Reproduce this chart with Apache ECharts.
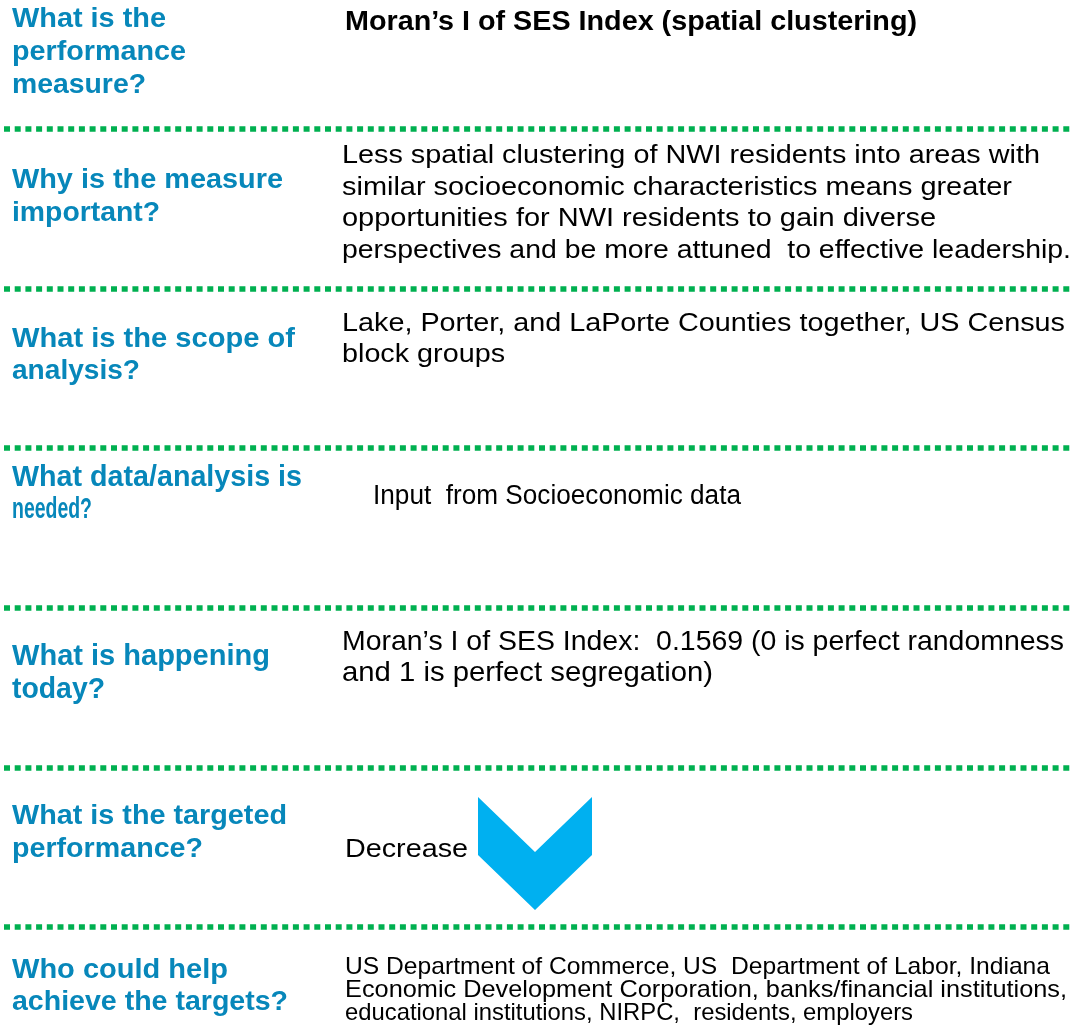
<!DOCTYPE html>
<html>
<head>
<meta charset="utf-8">
<script src="https://cdn.jsdelivr.net/npm/echarts@6/dist/echarts.min.js"></script>
<style>
html,body{margin:0;padding:0;background:#fff;}
#chart{width:1072px;height:1031px;}
</style>
</head>
<body>
<div id="chart"></div>
<script>
// ---- Content ----
const questions = [
  ["What is the", "performance", "measure?"],
  ["Why is the measure", "important?"],
  ["What is the scope of", "analysis?"],
  ["What data/analysis is", "needed?"],
  ["What is happening", "today?"],
  ["What is the targeted", "performance?"],
  ["Who could help", "achieve the targets?"]
];
const answers = [
  ["Moran’s I of SES Index (spatial clustering)"],
  ["Less spatial clustering of NWI residents into areas with",
   "similar socioeconomic characteristics means greater",
   "opportunities for NWI residents to gain diverse",
   "perspectives and be more attuned  to effective leadership."],
  ["Lake, Porter, and LaPorte Counties together, US Census", "block groups"],
  ["Input  from Socioeconomic data"],
  ["Moran’s I of SES Index:  0.1569 (0 is perfect randomness", "and 1 is perfect segregation)"],
  ["Decrease"],
  ["US Department of Commerce, US  Department of Labor, Indiana",
   "Economic Development Corporation, banks/financial institutions,",
   "educational institutions, NIRPC,  residents, employers"]
];
const targetDirection = "down";

// ---- Layout (positions / sizes / styles) ----
const qLeft = 12;
const qSizes = [28, 28, 28, 29, 29, 28, 28];
const qCenters = [[19, 52, 85], [180, 213], [339, 371], [478, 510], [657, 690], [816, 849], [970, 1002]];
const qRights = [[166, 186, 146], [283, 160], [295, 140], [302, 92], [270, 105], [287, 203], [228, 288]];
const aLefts = [345, 342, 342, 373, 342, 345, 345];
const aCenters = [[22], [156, 188, 219, 251], [324, 355], [497], [642, 673], [850], [967, 990, 1013]];
const aRights = [[917], [1040, 1012, 936, 1071], [1065, 505], [741], [1064, 713], [468], [1050, 1067, 913]];
const aStyles = [
  {weight: 'bold', size: 28}, {weight: 'normal', size: 26}, {weight: 'normal', size: 26},
  {weight: 'normal', size: 27}, {weight: 'normal', size: 28}, {weight: 'normal', size: 26},
  {weight: 'normal', size: 24}
];
const sepYs = [129, 289, 448, 608, 768, 927];
const FONT = '"Liberation Sans", Arial, sans-serif';
const BLUE = '#0787BA';
const GREEN = '#00B050';
const CHEVRON = '#00B0F0';

const measureCtx = document.createElement('canvas').getContext('2d');
function measure(text, weight, size) {
  measureCtx.font = weight + ' ' + size + 'px ' + FONT;
  return measureCtx.measureText(text).width;
}
function textEl(text, x, cy, right, weight, size, color) {
  const w = measure(text, weight, size);
  let sx = (right - x) / w;
  sx = Math.max(0.6, Math.min(1.3, sx));
  return {
    type: 'text', x: x, y: cy, scaleX: sx, silent: true,
    style: {
      text: text, x: 0, y: 0, fill: color,
      font: weight + ' ' + size + 'px ' + FONT,
      textAlign: 'left', textVerticalAlign: 'middle'
    }
  };
}

const graphics = [];
questions.forEach((lines, i) => {
  lines.forEach((t, j) => {
    graphics.push(textEl(t, qLeft, qCenters[i][j], qRights[i][j], 'bold', qSizes[i], BLUE));
  });
});
answers.forEach((lines, i) => {
  lines.forEach((t, j) => {
    graphics.push(textEl(t, aLefts[i], aCenters[i][j], aRights[i][j], aStyles[i].weight, aStyles[i].size, '#000000'));
  });
});
sepYs.forEach(y => {
  graphics.push({
    type: 'line', silent: true,
    shape: {x1: 4, y1: y, x2: 1072, y2: y},
    style: {stroke: GREEN, lineWidth: 5.5, lineDash: [6, 4.7], lineCap: 'butt'}
  });
});
if (targetDirection === 'down') {
  graphics.push({
    type: 'polygon', silent: true,
    shape: {points: [[478, 797], [535, 852], [592, 797], [592, 855], [535, 910], [478, 855]]},
    style: {fill: CHEVRON}
  });
}

const chart = echarts.init(document.getElementById('chart'), null, {renderer: 'canvas'});
chart.setOption({
  backgroundColor: '#ffffff',
  animation: false,
  graphic: graphics
});
</script>
</body>
</html>
